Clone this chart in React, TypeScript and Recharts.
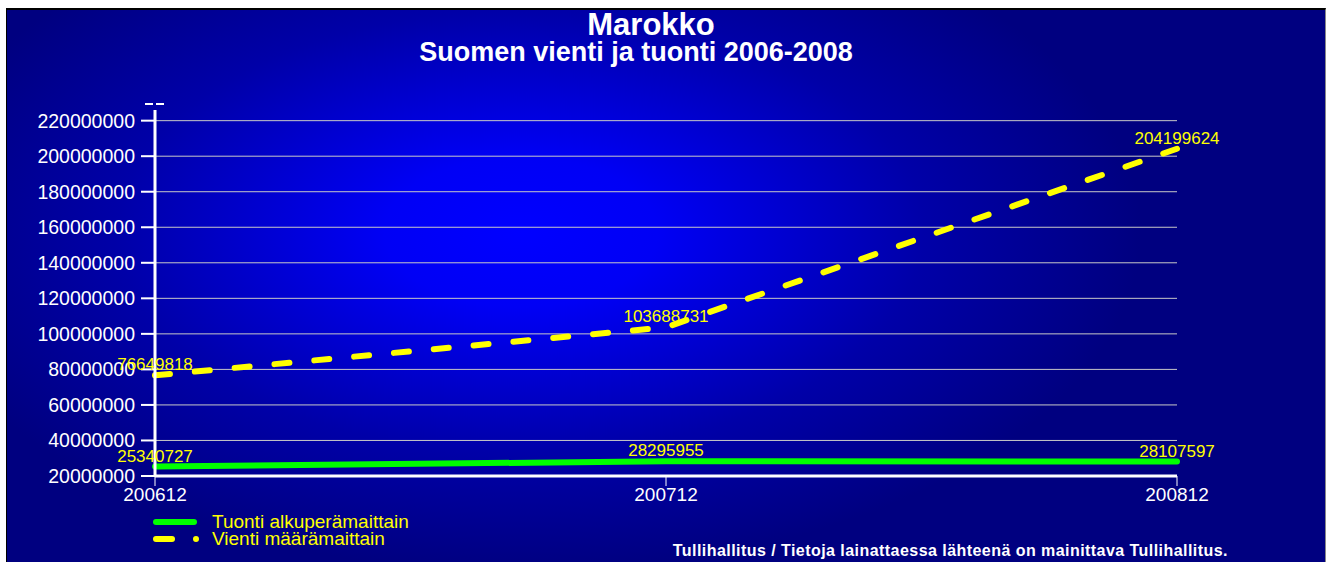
import React from 'react';
import { LineChart, Line, XAxis, YAxis, CartesianGrid, LabelList, Legend, Label } from 'recharts';

const periods = ['200612', '200712', '200812'];
const tuontiValues = [25340727, 28295955, 28107597];
const vientiValues = [76649818, 103688731, 204199624];
const yTicks = [20000000, 40000000, 60000000, 80000000, 100000000, 120000000, 140000000, 160000000, 180000000, 200000000, 220000000];
const seriesNames = ['Tuonti alkuperämaittain', 'Vienti määrämaittain'];
const title = 'Marokko';
const subtitle = 'Suomen vienti ja tuonti 2006-2008';
const footer = 'Tullihallitus / Tietoja lainattaessa lähteenä on mainittava Tullihallitus.';

const data = periods.map((p, i) => ({ period: p, tuonti: tuontiValues[i], vienti: vientiValues[i] }));

const FONT = '"Liberation Sans", Arial, sans-serif';

const renderLegend = (props: any) => {
  const payload = props.payload || [];
  return (
    <svg width={320} height={46} style={{ display: 'block' }}>
      {payload.map((entry: any, i: number) => {
        const y = 16 + i * 17;
        const isDashed = i === 1;
        return (
          <g key={i}>
            {isDashed ? (
              <g>
                <line x1={6} y1={y} x2={22} y2={y} stroke={entry.color} strokeWidth={6} strokeLinecap="round" />
                <circle cx={46} cy={y} r={3} fill={entry.color} />
              </g>
            ) : (
              <line x1={6} y1={y} x2={44} y2={y} stroke={entry.color} strokeWidth={6} strokeLinecap="round" />
            )}
            <text x={62} y={y + 6} fill="#ffff00" fontSize={19} fontFamily={FONT}>{entry.value}</text>
          </g>
        );
      })}
    </svg>
  );
};

const AxisTopMark = (props: any) => {
  const vb = props.viewBox || {};
  const x = (vb.x || 0) + (vb.width || 0);
  const y = vb.y || 0;
  return (
    <line x1={x - 10} y1={y - 6} x2={x + 9} y2={y - 6} stroke="#ffffff" strokeWidth={2} strokeDasharray="8 3" />
  );
};

const gridRows = (args: any) => {
  const yAxis = args && args.yAxis;
  if (yAxis && typeof yAxis.scale === 'function') {
    return yTicks.slice(1).map((t) => yAxis.scale(t));
  }
  if (yAxis && yAxis.scale && typeof yAxis.scale.map === 'function') {
    return yTicks.slice(1).map((t) => yAxis.scale.map(t));
  }
  return [];
};

export default function App() {
  return (
    <div style={{ position: 'absolute', left: 0, top: 0, width: 1330, height: 562, background: '#ffffff', overflow: 'hidden' }}>
      <div
        style={{
          position: 'absolute',
          left: 6,
          top: 8,
          width: 1318,
          height: 560,
          borderLeft: '1px solid #000',
          borderTop: '2px solid #000',
          borderRight: '1px solid #888',
          background: 'radial-gradient(ellipse 620px 340px at 514px 222px, #0000ff 0%, #0000f5 22%, #0000a8 65%, #000080 100%)',
        }}
      />
      <div style={{ position: 'absolute', left: 0, top: 0 }}>
        <LineChart width={1330} height={562} data={data} margin={{ top: 110, right: 153, bottom: 10, left: 0 }}>
          <CartesianGrid horizontal vertical={false} stroke="#c8c8c8" strokeWidth={1} horizontalCoordinatesGenerator={gridRows} />
          <XAxis
            dataKey="period"
            height={30}
            axisLine={{ stroke: '#ffffff', strokeWidth: 3 }}
            tickLine={{ stroke: '#ffffff', strokeWidth: 1 }}
            tickSize={10}
            tickMargin={2}
            tick={{ fill: '#ffffff', fontSize: 19, fontFamily: FONT }}
            interval={0}
          />
          <YAxis
            width={155}
            domain={[20000000, 226000000]}
            ticks={yTicks}
            allowDataOverflow
            axisLine={{ stroke: '#ffffff', strokeWidth: 3 }}
            tickLine={{ stroke: '#ffffff', strokeWidth: 2 }}
            tickSize={14}
            tickMargin={6}
            tick={{ fill: '#ffffff', fontSize: 19.5, fontFamily: FONT }}
            interval={0}
          >
            <Label content={<AxisTopMark />} position="top" />
          </YAxis>
          <Legend
            content={renderLegend}
            wrapperStyle={{ left: 150, top: 506, width: 320, height: 46, bottom: 'auto' }}
          />
          <Line
            type="linear"
            dataKey="tuonti"
            name={seriesNames[0]}
            stroke="#00ff00"
            strokeWidth={6}
            strokeLinecap="round"
            strokeLinejoin="round"
            dot={false}
            activeDot={false}
            isAnimationActive={false}
          >
            <LabelList dataKey="tuonti" position="top" offset={5} fill="#ffff00" fontSize={17} fontFamily={FONT} />
          </Line>
          <Line
            type="linear"
            dataKey="vienti"
            name={seriesNames[1]}
            stroke="#ffff00"
            strokeWidth={6}
            strokeDasharray="15 25"
            strokeLinecap="round"
            strokeLinejoin="round"
            dot={false}
            activeDot={false}
            isAnimationActive={false}
          >
            <LabelList dataKey="vienti" position="top" offset={5} fill="#ffff00" fontSize={17} fontFamily={FONT} />
          </Line>
        </LineChart>
      </div>
      <svg width={1330} height={562} style={{ position: 'absolute', left: 0, top: 0, pointerEvents: 'none' }}>
        <text x={651} y={35} textAnchor="middle" fill="#ffffff" fontSize={31} fontWeight="bold" fontFamily={FONT}>{title}</text>
        <text x={636} y={61} textAnchor="middle" fill="#ffffff" fontSize={27} fontWeight="bold" fontFamily={FONT}>{subtitle}</text>
        <text x={1228} y={556} textAnchor="end" fill="#ffffff" fontSize={16} fontWeight="bold" letterSpacing={0.45} fontFamily={FONT}>{footer}</text>
      </svg>
    </div>
  );
}
